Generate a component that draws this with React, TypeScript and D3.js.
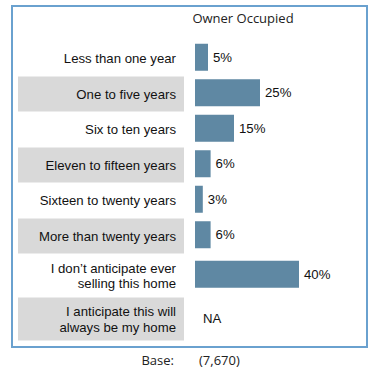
import React from "react";
import * as d3 from "d3";

const categories: string[][] = [
  ["Less than one year"],
  ["One to five years"],
  ["Six to ten years"],
  ["Eleven to fifteen years"],
  ["Sixteen to twenty years"],
  ["More than twenty years"],
  ["I don\u2019t anticipate ever", "selling this home"],
  ["I anticipate this will", "always be my home"],
];
const values: (number | null)[] = [5, 25, 15, 6, 3, 6, 40, null];
const seriesName = "Owner Occupied";
const baseLabel = "Base:";
const baseValue = "(7,670)";

const W = 385;
const H = 375;
const rowsTop = 41;
const singleRowH = 35.5;
const doubleRowH = 43.5;
const barH = 27;
const barX0 = 195;
const labelRight = 176;
const bandLeft = 18;
const bandRight = 184;
const font = "'Liberation Sans', Arial, sans-serif";

export default function App() {
  const heights = categories.map((c) => (c.length > 1 ? doubleRowH : singleRowH));
  const tops: number[] = [];
  heights.reduce((acc, h) => {
    tops.push(acc);
    return acc + h;
  }, rowsTop);

  const x = d3.scaleLinear().domain([0, 40]).range([barX0, 299]);

  return (
    <svg
      width={W}
      height={H}
      style={{ position: "absolute", left: 0, top: 0, background: "#fff" }}
    >
      <rect x={12} y={6} width={355} height={341} fill="none" stroke="#6aa1cf" strokeWidth={2} />
      <text
        x={243}
        y={23}
        textAnchor="middle"
        fontFamily="'Open Sans', sans-serif"
        fontSize={13}
        fill="#222"
      >
        {seriesName}
      </text>
      {categories.map((lines, i) => {
        const top = tops[i];
        const h = heights[i];
        const cy = top + h / 2;
        const v = values[i];
        const lineH = 15.5;
        return (
          <g key={i}>
            {i % 2 === 1 && (
              <rect x={bandLeft} y={top} width={bandRight - bandLeft} height={h - 0.5} fill="#d9d9d9" />
            )}
            {lines.map((ln, j) => (
              <text
                key={j}
                x={labelRight}
                y={cy + (j - (lines.length - 1) / 2) * lineH}
                dy="0.35em"
                textAnchor="end"
                fontFamily={font}
                fontSize={13.2}
                fill="#111"
              >
                {ln}
              </text>
            ))}
            {v !== null ? (
              <>
                <rect
                  x={x(0)}
                  y={cy - 1.5 - barH / 2}
                  width={x(v) - x(0)}
                  height={barH}
                  fill="#5f88a3"
                />
                <text
                  x={x(v) + 5}
                  y={cy - 1.5}
                  dy="0.35em"
                  fontFamily={font}
                  fontSize={13.2}
                  fill="#111"
                >
                  {v}%
                </text>
              </>
            ) : (
              <text x={x(0) + 8} y={cy - 1} dy="0.35em" fontFamily={font} fontSize={13.2} fill="#111">
                NA
              </text>
            )}
          </g>
        );
      })}
      <text x={174} y={365} textAnchor="end" fontFamily="'Open Sans', sans-serif" fontSize={13} fill="#222">
        {baseLabel}
      </text>
      <text x={199} y={365} fontFamily="'Open Sans', sans-serif" fontSize={13} fill="#222">
        {baseValue}
      </text>
    </svg>
  );
}
